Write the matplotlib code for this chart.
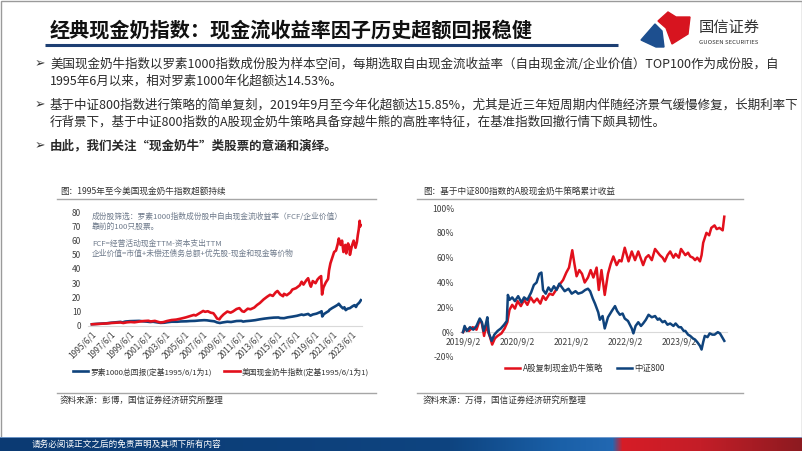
import numpy as np
import matplotlib.pyplot as plt
from matplotlib.patches import Rectangle, Polygon

plt.rcParams['font.family'] = ['Noto Sans CJK SC', 'DejaVu Sans']

# ---- left chart: US cash cow index vs Russell 1000 (base 1995/6/1 = 1) ----
us_year = [1995.42, 1996.0, 1996.5, 1997.0, 1997.5, 1998.0, 1998.5, 1998.7, 1999.0, 1999.5,
           2000.0, 2000.5, 2000.9, 2001.3, 2001.7, 2002.0, 2002.5, 2002.8, 2003.2, 2003.6,
           2004.0, 2004.6, 2005.0, 2005.6, 2006.0, 2006.5, 2007.0, 2007.5, 2007.8, 2008.2,
           2008.6, 2008.9, 2009.2, 2009.5, 2010.0, 2010.4, 2011.0, 2011.5, 2011.7, 2012.0,
           2012.5, 2013.0, 2013.5, 2014.0, 2014.5, 2015.0, 2015.5, 2015.7, 2016.1, 2016.5,
           2017.0, 2017.5, 2018.0, 2018.2, 2018.7, 2018.95, 2019.2, 2019.6, 2020.0, 2020.15,
           2020.22, 2020.4, 2020.7, 2020.9, 2021.0, 2021.3, 2021.6, 2021.9, 2022.0, 2022.2,
           2022.45, 2022.6, 2022.75, 2022.95, 2023.2, 2023.5, 2023.7, 2023.85, 2024.0, 2024.2,
           2024.3, 2024.38]
russell = [1.0, 1.3, 1.5, 1.7, 2.1, 2.4, 2.7, 2.3, 2.9, 3.2,
           3.3, 3.4, 3.1, 2.9, 2.6, 2.8, 2.3, 2.0, 2.1, 2.5,
           2.8, 2.8, 3.0, 3.1, 3.3, 3.4, 3.7, 3.9, 3.8, 3.4,
           3.1, 2.3, 1.9, 2.3, 2.8, 2.6, 3.3, 3.4, 2.9, 3.2,
           3.5, 3.9, 4.5, 5.0, 5.4, 5.7, 5.8, 5.4, 5.3, 5.9,
           6.4, 7.0, 7.9, 7.5, 8.3, 7.1, 7.9, 8.5, 9.6, 10.2,
           6.5, 8.2, 9.5, 10.3, 11.2, 12.5, 13.6, 14.8, 15.5, 13.8,
           12.2, 13.0, 11.0, 12.0, 12.4, 13.8, 14.5, 13.2, 15.0, 16.2,
           17.2, 18.0]
cc_year = [1995.42, 1996.0, 1996.5, 1997.0, 1997.5, 1998.0, 1998.5, 1998.8, 1999.2, 1999.6,
           2000.0, 2000.5, 2001.0, 2001.5, 2001.75, 2002.2, 2002.6, 2002.8, 2003.1, 2003.5,
           2004.0, 2004.5, 2005.0, 2005.5, 2006.0, 2006.4, 2006.6, 2007.0, 2007.4, 2007.6,
           2007.9, 2008.2, 2008.5, 2008.7, 2008.9, 2009.15, 2009.3, 2009.6, 2010.0, 2010.35,
           2010.6, 2011.0, 2011.3, 2011.6, 2011.8, 2012.2, 2012.5, 2012.9, 2013.2, 2013.5,
           2013.9, 2014.3, 2014.6, 2014.9, 2015.2, 2015.4, 2015.7, 2016.0, 2016.1, 2016.4,
           2016.8, 2017.0, 2017.4, 2017.8, 2018.0, 2018.2, 2018.5, 2018.7, 2018.9, 2019.0,
           2019.2, 2019.5, 2019.7, 2019.9, 2020.1, 2020.2, 2020.35, 2020.6, 2020.85, 2020.95,
           2021.1, 2021.3, 2021.5, 2021.7, 2021.9, 2022.0, 2022.2, 2022.35, 2022.5, 2022.7,
           2022.8, 2023.0, 2023.15, 2023.2, 2023.4, 2023.6, 2023.8, 2023.95, 2024.05, 2024.15,
           2024.25, 2024.3, 2024.35]
cashcow = [1.0, 1.2, 1.4, 1.6, 1.9, 2.1, 2.3, 1.9, 2.4, 2.6,
           2.4, 2.9, 3.3, 3.5, 3.0, 3.4, 2.6, 2.3, 2.5, 3.3,
           4.0, 4.3, 5.0, 5.8, 6.8, 7.6, 7.2, 8.8, 10.4, 9.8,
           10.2, 9.2, 8.8, 7.0, 5.0, 4.5, 6.0, 8.0, 10.0, 9.2,
           10.0, 11.8, 12.4, 10.2, 9.8, 12.0, 11.6, 12.8, 14.6, 16.0,
           18.5, 20.5, 21.8, 21.0, 23.5, 24.5, 22.0, 20.8, 22.5, 21.5,
           23.5, 25.5, 26.5, 28.5, 31.0, 29.0, 32.0, 33.5, 29.0, 27.5,
           31.5, 30.0, 32.5, 34.0, 35.0, 22.0, 27.0, 30.5, 33.0, 39.0,
           44.0, 48.0, 52.0, 53.0, 58.0, 61.5, 57.0, 60.0, 52.0, 57.0,
           51.0, 58.0, 55.0, 50.0, 56.0, 60.0, 55.0, 59.0, 64.0, 68.0,
           74.0, 70.0, 71.0]
us_ticks = [1995.42 + 2 * i for i in range(15)]
us_labels = ['%d/6/1' % (1995 + 2 * i) for i in range(15)]

# ---- right chart: A-share cash cow strategy vs CSI 800 (cumulative %) ----
a_year = [2019.67, 2019.72, 2019.78, 2019.85, 2019.92, 2019.98, 2020.02, 2020.06, 2020.1, 2020.13,
          2020.17, 2020.21, 2020.26, 2020.31, 2020.38, 2020.44, 2020.49, 2020.53, 2020.58, 2020.63,
          2020.68, 2020.74, 2020.8, 2020.86, 2020.92, 2020.98, 2021.04, 2021.1, 2021.15, 2021.2,
          2021.27, 2021.33, 2021.39, 2021.45, 2021.52, 2021.58, 2021.63, 2021.69, 2021.73, 2021.77,
          2021.82, 2021.87, 2021.92, 2021.98, 2022.03, 2022.08, 2022.14, 2022.18, 2022.23, 2022.29,
          2022.35, 2022.4, 2022.45, 2022.51, 2022.56, 2022.6, 2022.66, 2022.73, 2022.79, 2022.85,
          2022.91, 2023.0, 2023.05, 2023.1, 2023.16, 2023.22, 2023.31, 2023.36, 2023.4, 2023.45,
          2023.5, 2023.56, 2023.6, 2023.66, 2023.7, 2023.78, 2023.83, 2023.87, 2023.92, 2023.96,
          2024.0, 2024.05, 2024.08, 2024.11, 2024.17, 2024.22, 2024.26, 2024.32, 2024.36, 2024.41,
          2024.47, 2024.5]
a_strategy = [0, 3, 1, 4, 2, 10, 7, -3, 6, 1,
              -4, -10, -5, -3, -1, 3, 8, 18, 22, 19,
              25, 21, 26, 22, 28, 24, 27, 23, 29, 26,
              31, 30, 34, 38, 42, 48, 52, 66, 55, 45,
              50, 47, 40, 44, 50, 44, 52, 34, 50, 30,
              47, 55, 61, 54, 58, 57, 68, 57, 65, 58,
              65, 54, 60, 62, 58, 67, 62, 60, 57, 62,
              65, 60, 63, 60, 67, 62, 64, 61, 60, 58,
              60, 57, 62, 72, 80, 78, 84, 86, 83, 84,
              82, 93]
csi_year = [2019.67, 2019.7, 2019.74, 2019.8, 2019.86, 2019.92, 2019.98, 2020.02, 2020.05, 2020.09,
            2020.12, 2020.15, 2020.2, 2020.25, 2020.31, 2020.37, 2020.43, 2020.48, 2020.5, 2020.53,
            2020.58, 2020.63, 2020.69, 2020.75, 2020.8, 2020.86, 2020.93, 2020.98, 2021.03, 2021.08,
            2021.12, 2021.15, 2021.2, 2021.25, 2021.3, 2021.35, 2021.4, 2021.45, 2021.5, 2021.55,
            2021.62, 2021.68, 2021.75, 2021.8, 2021.87, 2021.93, 2021.98, 2022.02, 2022.07, 2022.11,
            2022.17, 2022.2, 2022.25, 2022.29, 2022.35, 2022.42, 2022.48, 2022.52, 2022.57, 2022.62,
            2022.66, 2022.72, 2022.79, 2022.82, 2022.86, 2022.91, 2022.96, 2023.0, 2023.05, 2023.1,
            2023.16, 2023.22, 2023.27, 2023.3, 2023.36, 2023.4, 2023.45, 2023.5, 2023.56, 2023.6,
            2023.66, 2023.7, 2023.75, 2023.78, 2023.83, 2023.87, 2023.92, 2023.96, 2024.0, 2024.05,
            2024.08, 2024.11, 2024.14, 2024.19, 2024.23, 2024.28, 2024.32, 2024.38, 2024.42, 2024.46,
            2024.5]
csi800 = [0, 5, 1, 4, 2, 5, 11, 8, 1, 6,
          12, -1, -7, -2, 1, 3, 6, 9, 30, 26,
          28, 25, 29, 24, 28, 26, 32, 38, 40, 47,
          48, 34, 31, 36, 33, 37, 34, 39, 36, 33,
          35, 31, 33, 31, 32, 34, 35, 33, 27, 23,
          16, 10, 13, 3, 12, 17, 21, 17, 14, 15,
          11, 9, 3, -1, 5, 8, 5, 7, 10, 14,
          12, 13, 10, 11, 8, 9, 6, 7, 5, 7,
          4, 4, 1, 1, -2, -3, -5, -6, -8, -11,
          -14, -8, -3, -4, -1, -2, -2, 0, -1, -4,
          -7]
cn_ticks = [2019.67, 2020.67, 2021.67, 2022.67, 2023.67]
cn_labels = ['2019/9/2', '2020/9/2', '2021/9/2', '2022/9/2', '2023/9/2']
cn_yticks = [-20, 0, 20, 40, 60, 80, 100]

RED = '#e2101c'
BLUE = '#0f437c'
W, H = 802, 451


def box(x0, y0, x1, y1):
    # pixel box (top-left origin) -> figure fraction
    return [x0 / W, 1 - y1 / H, (x1 - x0) / W, (y1 - y0) / H]


fig = plt.figure(figsize=(8.02, 4.51), dpi=100)
bg = fig.add_axes([0, 0, 1, 1])
bg.set_xlim(0, W)
bg.set_ylim(H, 0)
bg.axis('off')

# frame
bg.add_patch(Rectangle((0.5, 0.5), W - 1, H - 1, fill=False, ec='#9a9a9a', lw=1))

# header
bg.text(50, 30, '经典现金奶指数：现金流收益率因子历史超额回报稳健', fontsize=14.5,
        fontweight='bold', va='center', ha='left', color='#111111')
bg.plot([45, 618], [44.5, 44.5], color='#1d3f73', lw=2.2, solid_capstyle='butt')
# logo
bg.add_patch(Polygon([(641, 40), (655, 24), (662, 31), (664, 47), (656, 47)], color='#1d4f8f'))
bg.add_patch(Polygon([(658, 21), (668, 12), (676, 17), (690, 17), (688, 34), (672, 44), (666, 28)],
                     color='#d7141f'))
bg.text(699, 27, '国信证券', fontsize=11, va='center', ha='left', color='#333333')
bg.text(699, 42, 'GUOSEN SECURITIES', fontsize=4.3, va='center', ha='left', color='#333333')

# bullets
bul = dict(fontsize=9, va='center', ha='left', color='#2a2a2a')
for y in (64, 105, 146):
    bg.text(35, y, '➢', fontsize=9, va='center', ha='left', color='#333333', family='DejaVu Sans')
bg.text(50, 64, '美国现金奶牛指数以罗素1000指数成份股为样本空间，每期选取自由现金流收益率（自由现金流/企业价值）TOP100作为成份股，自', **bul)
bg.text(50, 81, '1995年6月以来，相对罗素1000年化超额达14.53%。', **bul)
bg.text(50, 105, '基于中证800指数进行策略的简单复刻，2019年9月至今年化超额达15.85%，尤其是近三年短周期内伴随经济景气缓慢修复，长期利率下', **bul)
bg.text(50, 122, '行背景下，基于中证800指数的A股现金奶牛策略具备穿越牛熊的高胜率特征，在基准指数回撤行情下颇具韧性。', **bul)
bg.text(50, 146, '由此，我们关注“现金奶牛”类股票的意涵和演绎。', fontweight='bold', **bul)

# chart titles / separators / sources
small = dict(fontsize=6.2, va='center', ha='left', color='#333333')
bg.text(60, 191, '图：1995年至今美国现金奶牛指数超额持续', **small)
bg.text(423, 191, '图：基于中证800指数的A股现金奶牛策略累计收益', **small)
for x0, x1 in ((57, 376), (417, 743)):
    bg.plot([x0, x1], [198.5, 198.5], color='#a6a6a6', lw=1)
    bg.plot([x0, x1], [392.5, 392.5], color='#a6a6a6', lw=1)
bg.text(60, 400, '资料来源：彭博，国信证券经济研究所整理', **small)
bg.text(423, 400, '资料来源：万得，国信证券经济研究所整理', **small)

# footer band
stops_x = [0, 450, 560, 612, 622, 700, 802]
stops_c = np.array([[11, 58, 115], [14, 68, 128], [26, 96, 168], [34, 104, 178],
                    [214, 28, 38], [196, 30, 40], [140, 26, 32]]) / 255.0
xs = np.arange(W)
grad = np.stack([np.interp(xs, stops_x, stops_c[:, k]) for k in range(3)], axis=-1)[None, :, :]
bg.imshow(grad, extent=[0, W, H, 437], aspect='auto', zorder=1)
bg.set_xlim(0, W)
bg.set_ylim(H, 0)
bg.plot([0, W], [437, 437], color='#7fa6d6', lw=0.6, zorder=2)
bg.text(32, 444, '请务必阅读正文之后的免责声明及其项下所有内容', fontsize=6.2, va='center',
        ha='left', color='white', zorder=3)

# ---- left chart ----
ax1 = fig.add_axes(box(88, 212.3, 362, 325.7))
l_ru, = ax1.plot(us_year, russell, color=BLUE, lw=1.9)
l_cc, = ax1.plot(cc_year, cashcow, color=RED, lw=1.9)
ax1.set_xlim(1995.0, 2024.5)
ax1.set_ylim(0, 80)
ax1.set_yticks(range(0, 81, 10))
ax1.set_xticks(us_ticks)
ax1.set_xticklabels(us_labels, rotation=45, ha='right', rotation_mode='anchor')
ax1.tick_params(axis='both', length=0, labelsize=6, colors='#404040')
ax1.tick_params(axis='y', pad=5)
ax1.tick_params(axis='x', pad=3)
for s in ('top', 'right', 'left'):
    ax1.spines[s].set_visible(False)
ax1.spines['bottom'].set_color('#d9d9d9')
ax1.patch.set_alpha(0)
ann = dict(fontsize=5.6, va='center', ha='left', color='#6f7b8c', transform=bg.transData)
ax1.text(92, 216.5, '成份股筛选：罗素1000指数成份股中自由现金流收益率（FCF/企业价值）', **ann)
ax1.text(92, 226.5, '靠前的100只股票。', **ann)
ax1.text(92, 243.5, 'FCF=经营活动现金TTM-资本支出TTM', **ann)
ax1.text(92, 254, '企业价值=市值+未偿还债务总额+优先股-现金和现金等价物', **ann)
ax1.legend([l_ru, l_cc], ['罗素1000总回报(定基1995/6/1为1)', '美国现金奶牛指数(定基1995/6/1为1)'],
           loc='center', bbox_to_anchor=(221 / W, 1 - 372 / H), bbox_transform=fig.transFigure,
           ncol=2, frameon=False, fontsize=5.6, handlelength=2.0, columnspacing=1.5,
           handletextpad=0.3, labelcolor='#333333')

# ---- right chart ----
ax2 = fig.add_axes(box(460, 208, 727, 357))
l_a, = ax2.plot(a_year, a_strategy, color=RED, lw=1.8)
l_c, = ax2.plot(csi_year, csi800, color=BLUE, lw=1.8)
ax2.set_xlim(2019.615, 2024.55)
ax2.set_ylim(-20, 100)
ax2.set_yticks(cn_yticks)
ax2.set_yticklabels(['%d%%' % v for v in cn_yticks])
ax2.set_xticks(cn_ticks)
ax2.set_xticklabels(cn_labels)
ax2.tick_params(axis='both', length=0, labelsize=6.2, colors='#404040')
ax2.tick_params(axis='y', pad=4)
ax2.tick_params(axis='x', pad=4)
for s in ('top', 'right', 'left'):
    ax2.spines[s].set_visible(False)
ax2.spines['bottom'].set_position(('data', 0))
ax2.spines['bottom'].set_color('#d9d9d9')
ax2.spines['bottom'].set_zorder(0)
ax2.patch.set_alpha(0)
ax2.legend([l_a, l_c], ['A股复制现金奶牛策略', '中证800'],
           loc='center', bbox_to_anchor=(585 / W, 1 - 368 / H), bbox_transform=fig.transFigure,
           ncol=2, frameon=False, fontsize=6, handlelength=1.8, columnspacing=1.6,
           handletextpad=0.3, labelcolor='#333333')

fig.savefig('out.png', dpi=100)
